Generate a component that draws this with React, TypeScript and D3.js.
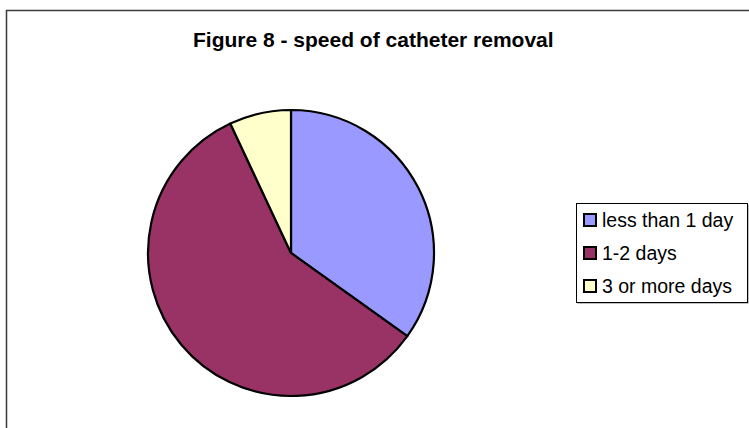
import React from "react";
import * as d3 from "d3";

const categories = ["less than 1 day", "1-2 days", "3 or more days"];
const values = [15, 25, 3];
const colors = ["#9999FF", "#993366", "#FFFFCC"];
const title = "Figure 8 - speed of catheter removal";

export default function App() {
  const W = 749, H = 428;
  const cx = 291, cy = 253, r = 143;
  const pie = d3.pie<number>().sort(null).value((d) => d)(values);
  const arc = d3.arc<d3.PieArcDatum<number>>().innerRadius(0).outerRadius(r);
  const legX = 576, legY = 203, legW = 171, legH = 99;
  const font = "Liberation Sans, Arial, sans-serif";
  return (
    <svg width={W} height={H} style={{ position: "absolute", left: 0, top: 0, background: "#fff" }}>
      <rect x={6.5} y={10.5} width={W + 20} height={H + 20} fill="#fff" stroke="#3a3a3a" strokeWidth={1.5} />
      <text x={193} y={47} fontFamily={font} fontWeight="bold" fontSize={21} fill="#000">
        {title}
      </text>
      <g transform={`translate(${cx},${cy})`}>
        {pie.map((p, i) => (
          <path key={i} d={arc(p) as string} fill={colors[i]} stroke="#000" strokeWidth={2.2} strokeLinejoin="round" />
        ))}
      </g>
      <rect x={legX + 1.5} y={legY + 1.5} width={legW} height={legH} fill="#808080" />
      <rect x={legX + 0.5} y={legY + 0.5} width={legW} height={legH} fill="#fff" stroke="#000" strokeWidth={1} />
      {categories.map((c, i) => {
        const base = legY + 24 + i * 33;
        return (
          <g key={c}>
            <rect x={legX + 8} y={base - 13} width={12} height={12} fill={colors[i]} stroke="#000" strokeWidth={2} />
            <text x={legX + 26} y={base} fontFamily={font} fontSize={19.5} fill="#000">
              {c}
            </text>
          </g>
        );
      })}
    </svg>
  );
}
